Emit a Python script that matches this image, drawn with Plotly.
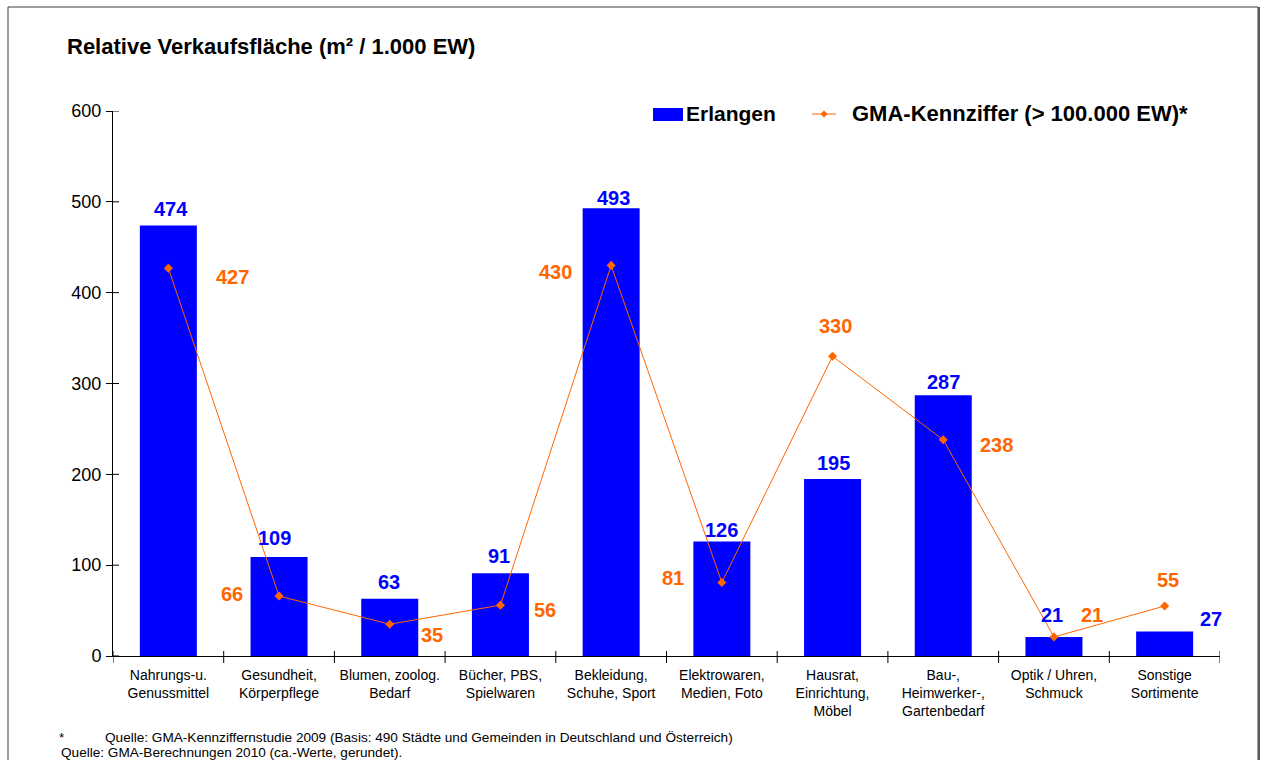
import plotly.graph_objects as go

# Sortiments-Kategorien und Werte (m² Verkaufsfläche je 1.000 Einwohner)
categories = [
    "Nahrungs-u.<br>Genussmittel",
    "Gesundheit,<br>Körperpflege",
    "Blumen, zoolog.<br>Bedarf",
    "Bücher, PBS,<br>Spielwaren",
    "Bekleidung,<br>Schuhe, Sport",
    "Elektrowaren,<br>Medien, Foto",
    "Hausrat,<br>Einrichtung,<br>Möbel",
    "Bau-,<br>Heimwerker-,<br>Gartenbedarf",
    "Optik / Uhren,<br>Schmuck",
    "Sonstige<br>Sortimente",
]
erlangen = [474, 109, 63, 91, 493, 126, 195, 287, 21, 27]
gma = [427, 66, 35, 56, 430, 81, 330, 238, 21, 55]
y_ticks = [0, 100, 200, 300, 400, 500, 600]

# Label offsets in pixels (x, y) relative to the bar top / line point
erl_label_dx = [3, -5, -1, -1, 2, 0, 1, 0, -2, 46]
erl_label_dy = [16, 19, 17, 17, 10, 12, 16, 13, 22, 12]
gma_label_dx = [64, -47, 42, 45, -56, -49, 3, 53, 38, 3]
gma_label_dy = [-9, 2, -11, -5, -7, 4, 30, -5, 22, 26]

W, H = 1266, 760
ML, MR, MT, MB = 113, 46, 111, 104
PW, PH = W - ML - MR, H - MT - MB

BLUE = "#0000FF"
ORANGE = "#FF6600"
FONT = "Liberation Sans, Arial, sans-serif"


def px(x):
    return (x - ML) / PW


def py(y):
    return (H - MB - y) / PH


idx = list(range(len(categories)))

fig = go.Figure()
fig.add_trace(go.Bar(
    x=idx, y=erlangen, name="Erlangen",
    marker=dict(color=BLUE, line=dict(width=0)),
    showlegend=False,
))
fig.add_trace(go.Scatter(
    x=idx, y=gma, name="GMA-Kennziffer (> 100.000 EW)*",
    mode="lines+markers",
    line=dict(color=ORANGE, width=1),
    marker=dict(symbol="diamond", size=7, color=ORANGE),
    showlegend=False,
))

annotations = []
for i, v in enumerate(erlangen):
    annotations.append(dict(
        x=i, y=v, xref="x", yref="y", text=f"<b>{v}</b>", showarrow=False,
        xshift=erl_label_dx[i], yshift=erl_label_dy[i],
        font=dict(family=FONT, size=20, color=BLUE),
    ))
for i, v in enumerate(gma):
    annotations.append(dict(
        x=i, y=v, xref="x", yref="y", text=f"<b>{v}</b>", showarrow=False,
        xshift=gma_label_dx[i], yshift=gma_label_dy[i],
        font=dict(family=FONT, size=20, color=ORANGE),
    ))

# Title
annotations.append(dict(
    x=px(65), y=py(46), xref="paper", yref="paper", xanchor="left", yanchor="middle",
    text="<b>Relative Verkaufsfläche (m² / 1.000 EW)</b>", showarrow=False,
    font=dict(family=FONT, size=22, color="black"),
))

# Legend texts
annotations.append(dict(
    x=px(684), y=py(114), xref="paper", yref="paper", xanchor="left", yanchor="middle",
    text="<b>Erlangen</b>", showarrow=False,
    font=dict(family=FONT, size=21, color="black"),
))
annotations.append(dict(
    x=px(850), y=py(114), xref="paper", yref="paper", xanchor="left", yanchor="middle",
    text="<b>GMA-Kennziffer (> 100.000 EW)*</b>", showarrow=False,
    font=dict(family=FONT, size=22, color="black"),
))

# Source notes
note_font = dict(family=FONT, size=13.6, color="black")
annotations.append(dict(
    x=px(57), y=py(737), xref="paper", yref="paper", xanchor="left", yanchor="middle",
    text="*", showarrow=False, font=note_font,
))
annotations.append(dict(
    x=px(103), y=py(737), xref="paper", yref="paper", xanchor="left", yanchor="middle",
    text="Quelle: GMA-Kennziffernstudie 2009 (Basis: 490 Städte und Gemeinden in Deutschland und Österreich)",
    showarrow=False, font=note_font,
))
annotations.append(dict(
    x=px(59), y=py(752), xref="paper", yref="paper", xanchor="left", yanchor="middle",
    text="Quelle: GMA-Berechnungen 2010 (ca.-Werte, gerundet).",
    showarrow=False, font=note_font,
))

shapes = [
    # outer frame
    dict(type="rect", xref="paper", yref="paper",
         x0=px(8), x1=px(1258), y0=py(790), y1=py(7),
         line=dict(color="#3c3c3c", width=1), fillcolor="rgba(0,0,0,0)", layer="above"),
    dict(type="line", xref="paper", yref="paper",
         x0=px(1259), x1=px(1259), y0=py(790), y1=py(7),
         line=dict(color="#5a5a5a", width=2), layer="above"),
    # legend: bar swatch
    dict(type="rect", xref="paper", yref="paper",
         x0=px(653), x1=px(683), y0=py(121), y1=py(108),
         line=dict(width=0), fillcolor=BLUE),
    # legend: line swatch
    dict(type="line", xref="paper", yref="paper",
         x0=px(812), x1=px(836), y0=py(114), y1=py(114),
         line=dict(color=ORANGE, width=1)),
    dict(type="path", xref="paper", yref="paper",
         path=(f"M {px(824)} {py(110.5)} L {px(827.5)} {py(114)} "
               f"L {px(824)} {py(117.5)} L {px(820.5)} {py(114)} Z"),
         line=dict(width=0), fillcolor=ORANGE),
]

fig.update_layout(
    width=W, height=H, autosize=False,
    margin=dict(l=ML, r=MR, t=MT, b=MB, pad=0),
    paper_bgcolor="white", plot_bgcolor="white",
    bargap=0.485,
    font=dict(family=FONT, color="black"),
    annotations=annotations,
    shapes=shapes,
    xaxis=dict(
        type="linear", range=[-0.5, len(categories) - 0.5],
        tickmode="array", tickvals=idx, ticktext=categories,
        ticks="", showgrid=False, zeroline=False,
        showline=True, linecolor="black", linewidth=1,
        tickfont=dict(family=FONT, size=14, color="black"),
        ticklabelstandoff=6,
    ),
    yaxis=dict(
        range=[0, 600], tickmode="array", tickvals=y_ticks,
        ticks="outside", ticklen=6, tickcolor="black", tickwidth=1,
        showgrid=False, zeroline=False,
        showline=True, linecolor="black", linewidth=1,
        tickfont=dict(family=FONT, size=18, color="black"),
        ticklabelstandoff=1,
    ),
)

# category boundary ticks on the x axis
boundaries = [i - 0.5 for i in range(len(categories) + 1)]
for b in boundaries:
    fig.add_shape(type="line", xref="x", yref="paper", x0=b, x1=b, y0=0, y1=-7 / PH,
                  line=dict(color="black", width=1))
    fig.add_shape(type="line", xref="x", yref="paper", x0=b, x1=b, y0=0, y1=5 / PH,
                  line=dict(color="black", width=1))
# inward half of the y-axis ticks
for t in y_ticks:
    fig.add_shape(type="line", xref="paper", yref="y", x0=0, x1=6 / PW, y0=t, y1=t,
                  line=dict(color="black", width=1))

fig.write_html("out.html")
